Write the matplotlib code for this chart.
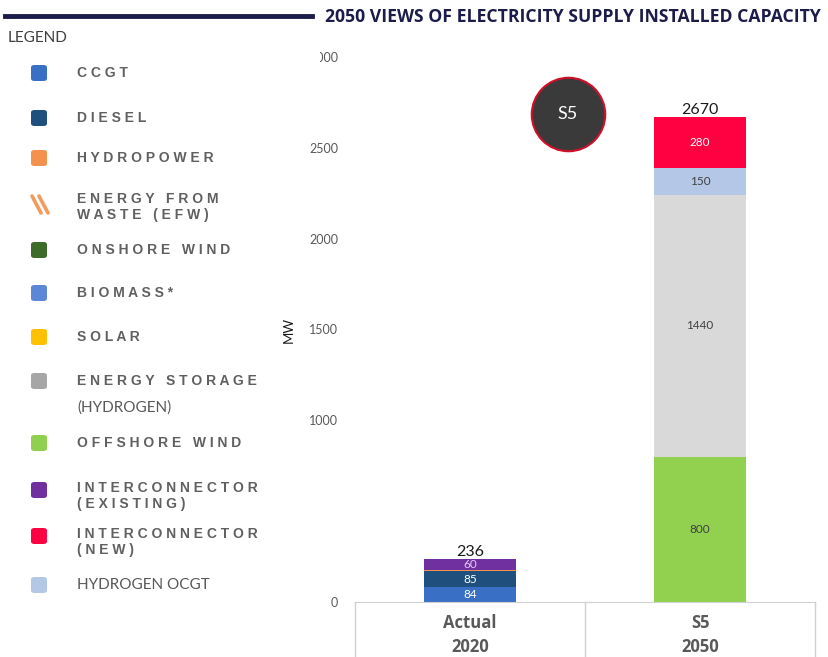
import matplotlib.pyplot as plt
from matplotlib.patches import FancyBboxPatch, Rectangle
from matplotlib.lines import Line2D
import matplotlib.transforms as mtransforms
import numpy as np

# installed capacity (MW) per technology, Actual 2020 vs S5 2050
categories = ['Actual\n2020', 'S5\n2050']
ccgt = [84, 0]
diesel = [85, 0]
hydropower = [7, 0]
offshore_wind = [0, 800]
energy_storage = [0, 1440]
hydrogen_ocgt = [0, 150]
interconnector_existing = [60, 0]
interconnector_new = [0, 280]
totals = [236, 2670]

y_ticks = [0, 1000, 1500, 2000, 2500, 3000]

legend_items = [
    ('CCGT', '#3a6fc6'),
    ('DIESEL', '#1f4f7c'),
    ('HYDROPOWER', '#f4914c'),
    ('ENERGY FROM\nWASTE (EFW)', None),
    ('ONSHORE WIND', '#3d6b2a'),
    ('BIOMASS*', '#5b87d6'),
    ('SOLAR', '#ffc000'),
    ('ENERGY STORAGE', '#a6a6a6'),
    ('OFFSHORE WIND', '#8fd04e'),
    ('INTERCONNECTOR\n(EXISTING)', '#7030a0'),
    ('INTERCONNECTOR\n(NEW)', '#ff0040'),
    ('HYDROGEN OCGT', '#b4c7e7'),
]
legend_rows = [73, 118, 158, 207, 250, 293, 337, 381, 443, 496, 542, 585]

W, H = 829, 657
fig = plt.figure(figsize=(W / 100, H / 100), dpi=100)


def fx(px):
    return px / W


def fy(py):
    return 1 - py / H


ax = fig.add_axes([fx(355), fy(602), fx(815) - fx(355), fy(57) - fy(602)])

# stacked segments: (values, colour, label colour)
stack = [
    (ccgt, '#3a6fc6', 'white'),
    (diesel, '#1f4f7c', 'white'),
    (hydropower, '#f4914c', 'white'),
    (offshore_wind, '#92d050', '#404040'),
    (energy_storage, '#d9d9d9', '#404040'),
    (hydrogen_ocgt, '#b4c7e7', '#404040'),
    (interconnector_existing, '#7030a0', '#e6c8ff'),
    (interconnector_new, '#ff0040', 'white'),
]

x = np.arange(len(categories))
bottom = np.zeros(len(categories))
for vals, col, tcol in stack:
    vals = np.array(vals, dtype=float)
    ax.bar(x, vals, 0.4, bottom=bottom, color=col, zorder=2)
    for i, v in enumerate(vals):
        if v >= 50:
            ax.text(x[i], bottom[i] + v / 2, f'{int(v)}', ha='center', va='center',
                    fontsize=8.5, color=tcol, family='Lato', zorder=3)
    bottom += vals

for i, t in enumerate(totals):
    ax.text(x[i], t + 2, str(t), ha='center', va='bottom', fontsize=11.5,
            color='#1a1a1a', family='Lato', zorder=4)

ax.set_xlim(-0.5, 1.5)
ax.set_ylim(0, 3000)
ax.set_yticks(y_ticks)
ax.set_yticklabels([str(v) for v in y_ticks], fontsize=9, color='#595959', family='Lato')
ax.set_xticks(x)
ax.set_xticklabels(categories, fontsize=12, fontweight='bold', color='#595959',
                   family='Open Sans', linespacing=1.4)
ax.tick_params(axis='both', length=0)
ax.tick_params(axis='y', pad=12)
ax.tick_params(axis='x', pad=9)
for s in ['top', 'right', 'left']:
    ax.spines[s].set_visible(False)
ax.spines['bottom'].set_color('#d0d0d0')
ax.set_ylabel('MW', fontsize=9.5, family='Lato', color='#1a1a1a')
ax.yaxis.set_label_coords(-0.13, 0.5)

# category cell borders under the axis
trans = mtransforms.blended_transform_factory(ax.transData, fig.transFigure)
for b in [-0.5, 0.5, 1.5]:
    fig.add_artist(Line2D([b, b], [0, fy(602)], transform=trans, color='#d0d0d0', lw=1))

# scenario badge
ax.scatter([0.463], [0.895], s=2800, transform=ax.transAxes, facecolor='#3a3a3a',
           edgecolor='#d0102a', linewidth=1.5, zorder=5, clip_on=False)
ax.text(0.463, 0.895, 'S5', transform=ax.transAxes, ha='center', va='center',
        fontsize=13, color='white', family='Lato', zorder=6)

# header
fig.add_artist(Line2D([fx(5), fx(312)], [fy(16), fy(16)], color='#1c1c4a', lw=3.5))
fig.text(fx(325), fy(17), '2050 VIEWS OF ELECTRICITY SUPPLY INSTALLED CAPACITY',
         ha='left', va='center', fontsize=12.7, fontweight='bold', color='#1c1c4a',
         family='Open Sans')
fig.text(fx(8), fy(38), 'LEGEND', ha='left', va='center', fontsize=11,
         color='#404040', family='Lato')

# legend panel
for (name, col), row in zip(legend_items, legend_rows):
    if col is None:
        # hatched EfW swatch
        for off in [0, 7]:
            fig.add_artist(Line2D([fx(32 + off), fx(41 + off)], [fy(196), fy(213)],
                                  color='#f08a40', lw=2.6, alpha=0.85,
                                  solid_capstyle='round'))
    else:
        by = row - 6 if '\n' in name else row
        fig.add_artist(FancyBboxPatch((fx(31), fy(by + 8)), fx(16), fy(0) - fy(16),
                                      boxstyle='round,pad=0,rounding_size=0.004',
                                      transform=fig.transFigure, facecolor=col,
                                      edgecolor='none'))
    if name == 'HYDROGEN OCGT':
        fig.text(fx(77), fy(row), name, ha='left', va='center', fontsize=11,
                 color='#595959', family='Lato')
        continue
    lines = name.split('\n')
    ty = row - 8 * (len(lines) - 1) if len(lines) > 1 else row
    for k, ln in enumerate(lines):
        fig.text(fx(77), fy(ty + 16 * k), ' '.join(ln), ha='left', va='center',
                 fontsize=10, fontweight='bold', color='#606060',
                 family='Liberation Sans')
    if name == 'ENERGY STORAGE':
        fig.text(fx(77), fy(408), '(HYDROGEN)', ha='left', va='center', fontsize=11,
                 color='#595959', family='Lato')

# white panel edge over the top tick label
fig.add_artist(Rectangle((fx(290), fy(66)), fx(320) - fx(290), fy(48) - fy(66),
                         transform=fig.transFigure, facecolor='white', edgecolor='none',
                         zorder=10))

fig.savefig('out.png', dpi=100)
